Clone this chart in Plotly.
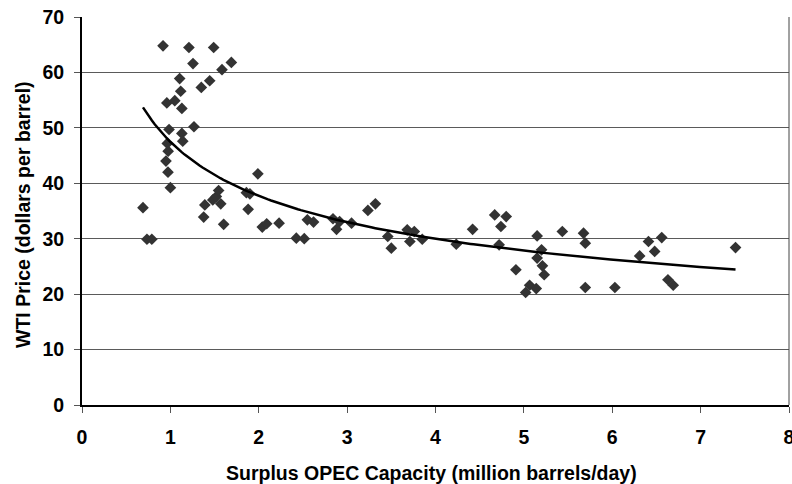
import numpy as np
import plotly.graph_objects as go

# Surplus OPEC capacity (million barrels/day)
surplus_capacity = [
    0.69, 0.735, 0.79, 0.917, 0.95, 0.96, 0.965, 0.975, 0.973, 1.0,
    0.985, 1.05, 1.105, 1.117, 1.13, 1.13, 1.14, 1.21, 1.256, 1.267,
    1.35, 1.445, 1.49, 1.584, 1.69, 1.39, 1.377, 1.48, 1.52, 1.546,
    1.57, 1.603, 1.86, 1.90, 1.88, 1.99, 2.04, 2.09, 2.23, 2.425,
    2.515, 2.55, 2.62, 2.84, 2.915, 2.88, 3.05, 3.235, 3.32, 3.46,
    3.50, 3.68, 3.76, 3.71, 3.85, 4.235, 4.42, 4.67, 4.80, 4.74,
    4.72, 4.91, 5.02, 5.065, 5.14, 5.15, 5.20, 5.15, 5.21, 5.23,
    5.435, 5.675, 5.695, 5.695, 6.03, 6.31, 6.41, 6.48, 6.56, 6.63,
    6.69, 7.395,
]
# WTI price (dollars per barrel)
wti_price = [
    35.6, 29.9, 29.9, 64.8, 44.0, 54.5, 47.2, 45.8, 42.0, 39.2,
    49.7, 54.9, 58.9, 56.6, 53.5, 49.0, 47.6, 64.5, 61.6, 50.2,
    57.3, 58.5, 64.5, 60.5, 61.8, 36.1, 33.9, 37.0, 37.6, 38.7,
    36.3, 32.6, 38.3, 38.1, 35.3, 41.7, 32.1, 32.7, 32.8, 30.1,
    30.0, 33.4, 33.0, 33.6, 33.1, 31.7, 32.8, 35.1, 36.3, 30.4,
    28.3, 31.6, 31.3, 29.5, 29.9, 29.0, 31.7, 34.3, 34.0, 32.2,
    28.9, 24.4, 20.3, 21.6, 21.0, 30.5, 28.0, 26.5, 25.1, 23.5,
    31.3, 31.0, 29.2, 21.2, 21.2, 26.9, 29.5, 27.7, 30.2, 22.6,
    21.6, 28.4,
]
x_ticks = [0, 1, 2, 3, 4, 5, 6, 7, 8]
y_ticks = [0, 10, 20, 30, 40, 50, 60, 70]

# Power trendline (least squares on log-log, as a spreadsheet power trendline)
lx = np.log(np.array(surplus_capacity))
ly = np.log(np.array(wti_price))
b, ln_a = np.polyfit(lx, ly, 1)
tx = np.linspace(min(surplus_capacity), max(surplus_capacity), 200)
ty = np.exp(ln_a) * tx ** b

FONT = "Liberation Sans, Arial, sans-serif"

fig = go.Figure()
fig.add_trace(go.Scatter(
    x=surplus_capacity, y=wti_price, mode="markers",
    marker=dict(symbol="diamond", size=9, color="#333333", line=dict(width=0)),
    showlegend=False, hoverinfo="x+y",
))
fig.add_trace(go.Scatter(
    x=tx, y=ty, mode="lines", line=dict(color="black", width=2.5),
    showlegend=False, hoverinfo="skip",
))

fig.update_layout(
    width=792, height=484,
    margin=dict(l=82, r=3, t=17, b=79, autoexpand=False),
    paper_bgcolor="white", plot_bgcolor="white",
    font=dict(family=FONT, color="black"),
    xaxis=dict(
        range=[0, 8], tickvals=x_ticks, ticktext=[str(v) for v in x_ticks],
        showgrid=False, zeroline=False, automargin=False,
        showline=True, linecolor="black", linewidth=2,
        ticks="outside", ticklen=6, tickwidth=1, tickcolor="#555555",
        tickfont=dict(family=FONT, size=19.5, color="black", weight="bold"),
        ticklabelstandoff=8, ticklabeloverflow="allow",
    ),
    yaxis=dict(
        range=[0, 70], tickvals=y_ticks, ticktext=[str(v) for v in y_ticks],
        showgrid=True, gridcolor="#5a5a5a", gridwidth=1, zeroline=False, automargin=False,
        showline=True, linecolor="black", linewidth=2,
        ticks="outside", ticklen=6, tickwidth=1, tickcolor="#555555",
        tickfont=dict(family=FONT, size=19.5, color="black", weight="bold"),
        ticklabelstandoff=6, ticklabeloverflow="allow",
    ),
    shapes=[dict(type="line", xref="paper", yref="paper", x0=1, x1=1, y0=0, y1=1,
                 line=dict(color="#444444", width=1))],
    annotations=[
        dict(text="Surplus OPEC Capacity (million barrels/day)", xref="paper", yref="paper",
             x=0.5, y=0, xanchor="center", yanchor="middle", yshift=-68, xshift=-4,
             showarrow=False, font=dict(family=FONT, size=19.5, color="black", weight="bold")),
        dict(text="WTI Price (dollars per barrel)", xref="paper", yref="paper",
             x=0, y=0.5, xanchor="center", yanchor="middle", xshift=-59, yshift=-4,
             textangle=-90, showarrow=False,
             font=dict(family=FONT, size=19.5, color="black", weight="bold")),
    ],
)

fig.write_html("out.html")
